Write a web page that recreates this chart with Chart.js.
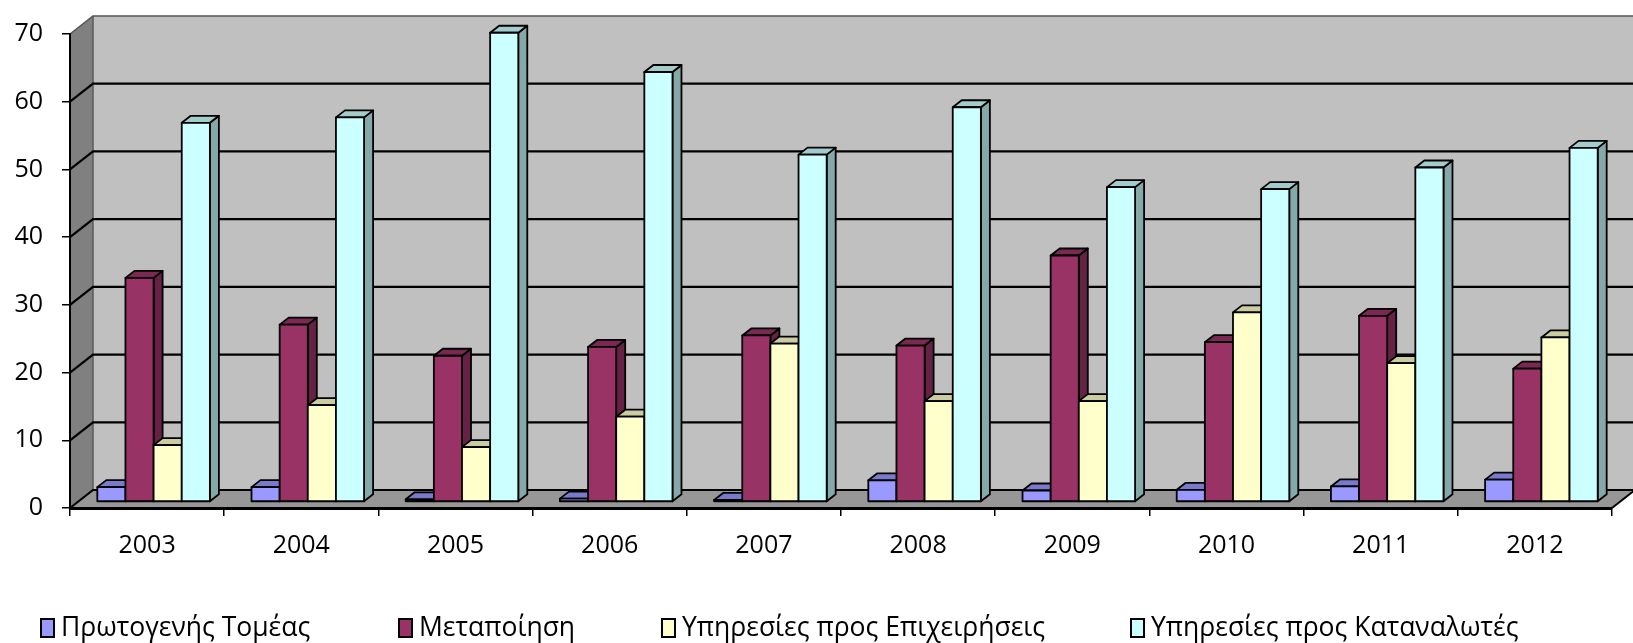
<!DOCTYPE html>
<html>
<head>
<meta charset="utf-8">
<script src="https://cdn.jsdelivr.net/npm/chart.js@4.4.1/dist/chart.umd.min.js"></script>
<style>
  html, body { margin: 0; padding: 0; background: #fff; }
</style>
</head>
<body>
<canvas id="barChart" width="1633" height="643"></canvas>
<script>
// data
const years = ['2003', '2004', '2005', '2006', '2007', '2008', '2009', '2010', '2011', '2012'];
const seriesNames = ['Πρωτογενής Τομέας', 'Μεταποίηση', 'Υπηρεσίες προς Επιχειρήσεις', 'Υπηρεσίες προς Καταναλωτές'];
const primary = [2.2, 2.2, 0.4, 0.5, 0.3, 3.2, 1.7, 1.8, 2.3, 3.3];
const manufacturing = [33.1, 26.2, 21.6, 22.9, 24.6, 23.1, 36.4, 23.6, 27.5, 19.7];
const businessServices = [8.4, 14.3, 8.1, 12.6, 23.4, 14.9, 14.9, 28.0, 20.5, 24.3];
const consumerServices = [56.0, 56.8, 69.3, 63.5, 51.3, 58.3, 46.5, 46.2, 49.4, 52.3];
const yMax = 70;
const yStep = 10;

// excel 2003 palette: front face / side face / top face
const faces = [
    { front: '#9999ff', side: '#6b6bb3', top: '#7a7acc' },
    { front: '#993366', side: '#662244', top: '#7a2952' },
    { front: '#ffffcc', side: '#b3b38f', top: '#cccca3' },
    { front: '#ccffff', side: '#85a8a8', top: '#a3cccc' }
];

// depth of the box (walls) and of the bars
const DX = 23, DY = -18;
const BAR_SHIFT_X = 6.5, BAR_SHIFT_Y = -6;
const SIDE_X = 9, SIDE_Y = -7;

const walls = {
    id: 'walls',
    beforeDraw(chart) {
        const ctx = chart.ctx;
        const a = chart.chartArea;
        const y = chart.scales.y;
        ctx.save();
        // back wall
        ctx.fillStyle = '#c0c0c0';
        ctx.fillRect(a.left + DX, a.top + DY, chart.width - a.left - DX, a.bottom - a.top);
        // left wall
        ctx.fillStyle = '#808080';
        ctx.beginPath();
        ctx.moveTo(a.left, a.top);
        ctx.lineTo(a.left + DX, a.top + DY);
        ctx.lineTo(a.left + DX, a.bottom + DY);
        ctx.lineTo(a.left, a.bottom);
        ctx.closePath();
        ctx.fill();
        // floor
        ctx.fillStyle = '#979797';
        ctx.beginPath();
        ctx.moveTo(a.left, a.bottom);
        ctx.lineTo(a.right, a.bottom);
        ctx.lineTo(a.right + DX, a.bottom + DY);
        ctx.lineTo(a.left + DX, a.bottom + DY);
        ctx.closePath();
        ctx.fill();
        ctx.strokeStyle = '#5a5a5a';
        ctx.lineWidth = 1.5;
        ctx.beginPath();
        ctx.moveTo(a.left + DX, a.top + DY);
        ctx.lineTo(a.left + DX, a.bottom + DY);
        ctx.stroke();

        // gridlines on back and left wall
        y.ticks.forEach(t => {
            const py = y.getPixelForValue(t.value);
            ctx.strokeStyle = t.value === yMax ? '#555' : '#000';
            ctx.lineWidth = t.value === yMax ? 1.5 : 2.2;
            ctx.beginPath();
            ctx.moveTo(a.left, py);
            ctx.lineTo(a.left + DX, py + DY);
            ctx.lineTo(chart.width, py + DY);
            ctx.stroke();
        });
        // right edge of the floor
        ctx.strokeStyle = '#000';
        ctx.lineWidth = 2;
        ctx.beginPath();
        ctx.moveTo(a.right, a.bottom);
        ctx.lineTo(a.right + DX * 1.4, a.bottom + DY * 1.4);
        ctx.stroke();
        ctx.restore();
    },
    beforeDatasetsDraw(chart) {
        const ctx = chart.ctx;
        ctx.save();
        ctx.lineJoin = 'round';
        ctx.strokeStyle = '#000';
        ctx.lineWidth = 1.8;
        for (let j = 0; j < years.length; j++) {
            chart.data.datasets.forEach((ds, i) => {
                const el = chart.getDatasetMeta(i).data[j];
                const p = el.getProps(['x', 'y', 'base', 'width'], true);
                const l = p.x - p.width / 2 + BAR_SHIFT_X;
                const r = p.x + p.width / 2 + BAR_SHIFT_X;
                const t = p.y + BAR_SHIFT_Y;
                const b = p.base + BAR_SHIFT_Y;
                const f = faces[i];
                // side
                ctx.fillStyle = f.side;
                ctx.beginPath();
                ctx.moveTo(r, t);
                ctx.lineTo(r + SIDE_X, t + SIDE_Y);
                ctx.lineTo(r + SIDE_X, b + SIDE_Y);
                ctx.lineTo(r, b);
                ctx.closePath();
                ctx.fill();
                ctx.stroke();
                // top
                ctx.fillStyle = f.top;
                ctx.beginPath();
                ctx.moveTo(l, t);
                ctx.lineTo(l + SIDE_X, t + SIDE_Y);
                ctx.lineTo(r + SIDE_X, t + SIDE_Y);
                ctx.lineTo(r, t);
                ctx.closePath();
                ctx.fill();
                ctx.stroke();
                // front
                ctx.fillStyle = f.front;
                ctx.fillRect(l, t, r - l, b - t);
                ctx.strokeRect(l, t, r - l, b - t);
            });
        }
        ctx.restore();
        return false;
    },
    afterDraw(chart) {
        // legend along the bottom
        const ctx = chart.ctx;
        const starts = [41, 399, 662, 1131];
        const cy = 628;
        ctx.save();
        ctx.font = '26.5px "Open Sans", sans-serif';
        ctx.textBaseline = 'middle';
        seriesNames.forEach((name, i) => {
            const x = starts[i];
            ctx.fillStyle = faces[i].front;
            ctx.fillRect(x, cy - 9, 13, 18);
            ctx.strokeStyle = '#000';
            ctx.lineWidth = 2;
            ctx.strokeRect(x, cy - 9, 13, 18);
            ctx.fillStyle = '#000';
            ctx.fillText(name, x + 20, cy);
        });
        ctx.restore();
    }
};

Chart.defaults.font.family = '"Open Sans", sans-serif';
Chart.defaults.font.size = 25;
Chart.defaults.color = '#000';

const ctx = document.getElementById('barChart').getContext('2d');
new Chart(ctx, {
    type: 'bar',
    data: {
        labels: years,
        datasets: [
            { label: seriesNames[0], data: primary, backgroundColor: faces[0].front },
            { label: seriesNames[1], data: manufacturing, backgroundColor: faces[1].front },
            { label: seriesNames[2], data: businessServices, backgroundColor: faces[2].front },
            { label: seriesNames[3], data: consumerServices, backgroundColor: faces[3].front }
        ]
    },
    options: {
        responsive: false,
        animation: false,
        devicePixelRatio: 1,
        layout: { padding: { top: 29, right: 21, left: 0, bottom: 0 } },
        datasets: { bar: { categoryPercentage: 0.73, barPercentage: 1 } },
        plugins: { legend: { display: false }, tooltip: { enabled: false } },
        scales: {
            x: {
                offset: true,
                grid: { offset: true, drawOnChartArea: false, tickLength: 8, color: '#000', lineWidth: 1.5 },
                border: { display: true, color: '#000', width: 3 },
                ticks: { padding: 15, maxRotation: 0 },
                afterFit(scale) { scale.height = 135; }
            },
            y: {
                min: 0,
                max: yMax,
                ticks: { stepSize: yStep, padding: 19 },
                grid: { drawOnChartArea: false, tickLength: 8, color: '#000', lineWidth: 1.5 },
                border: { display: true, color: '#000', width: 2 },
                afterFit(scale) { scale.width = 70; }
            }
        }
    },
    plugins: [walls]
});
</script>
</body>
</html>
